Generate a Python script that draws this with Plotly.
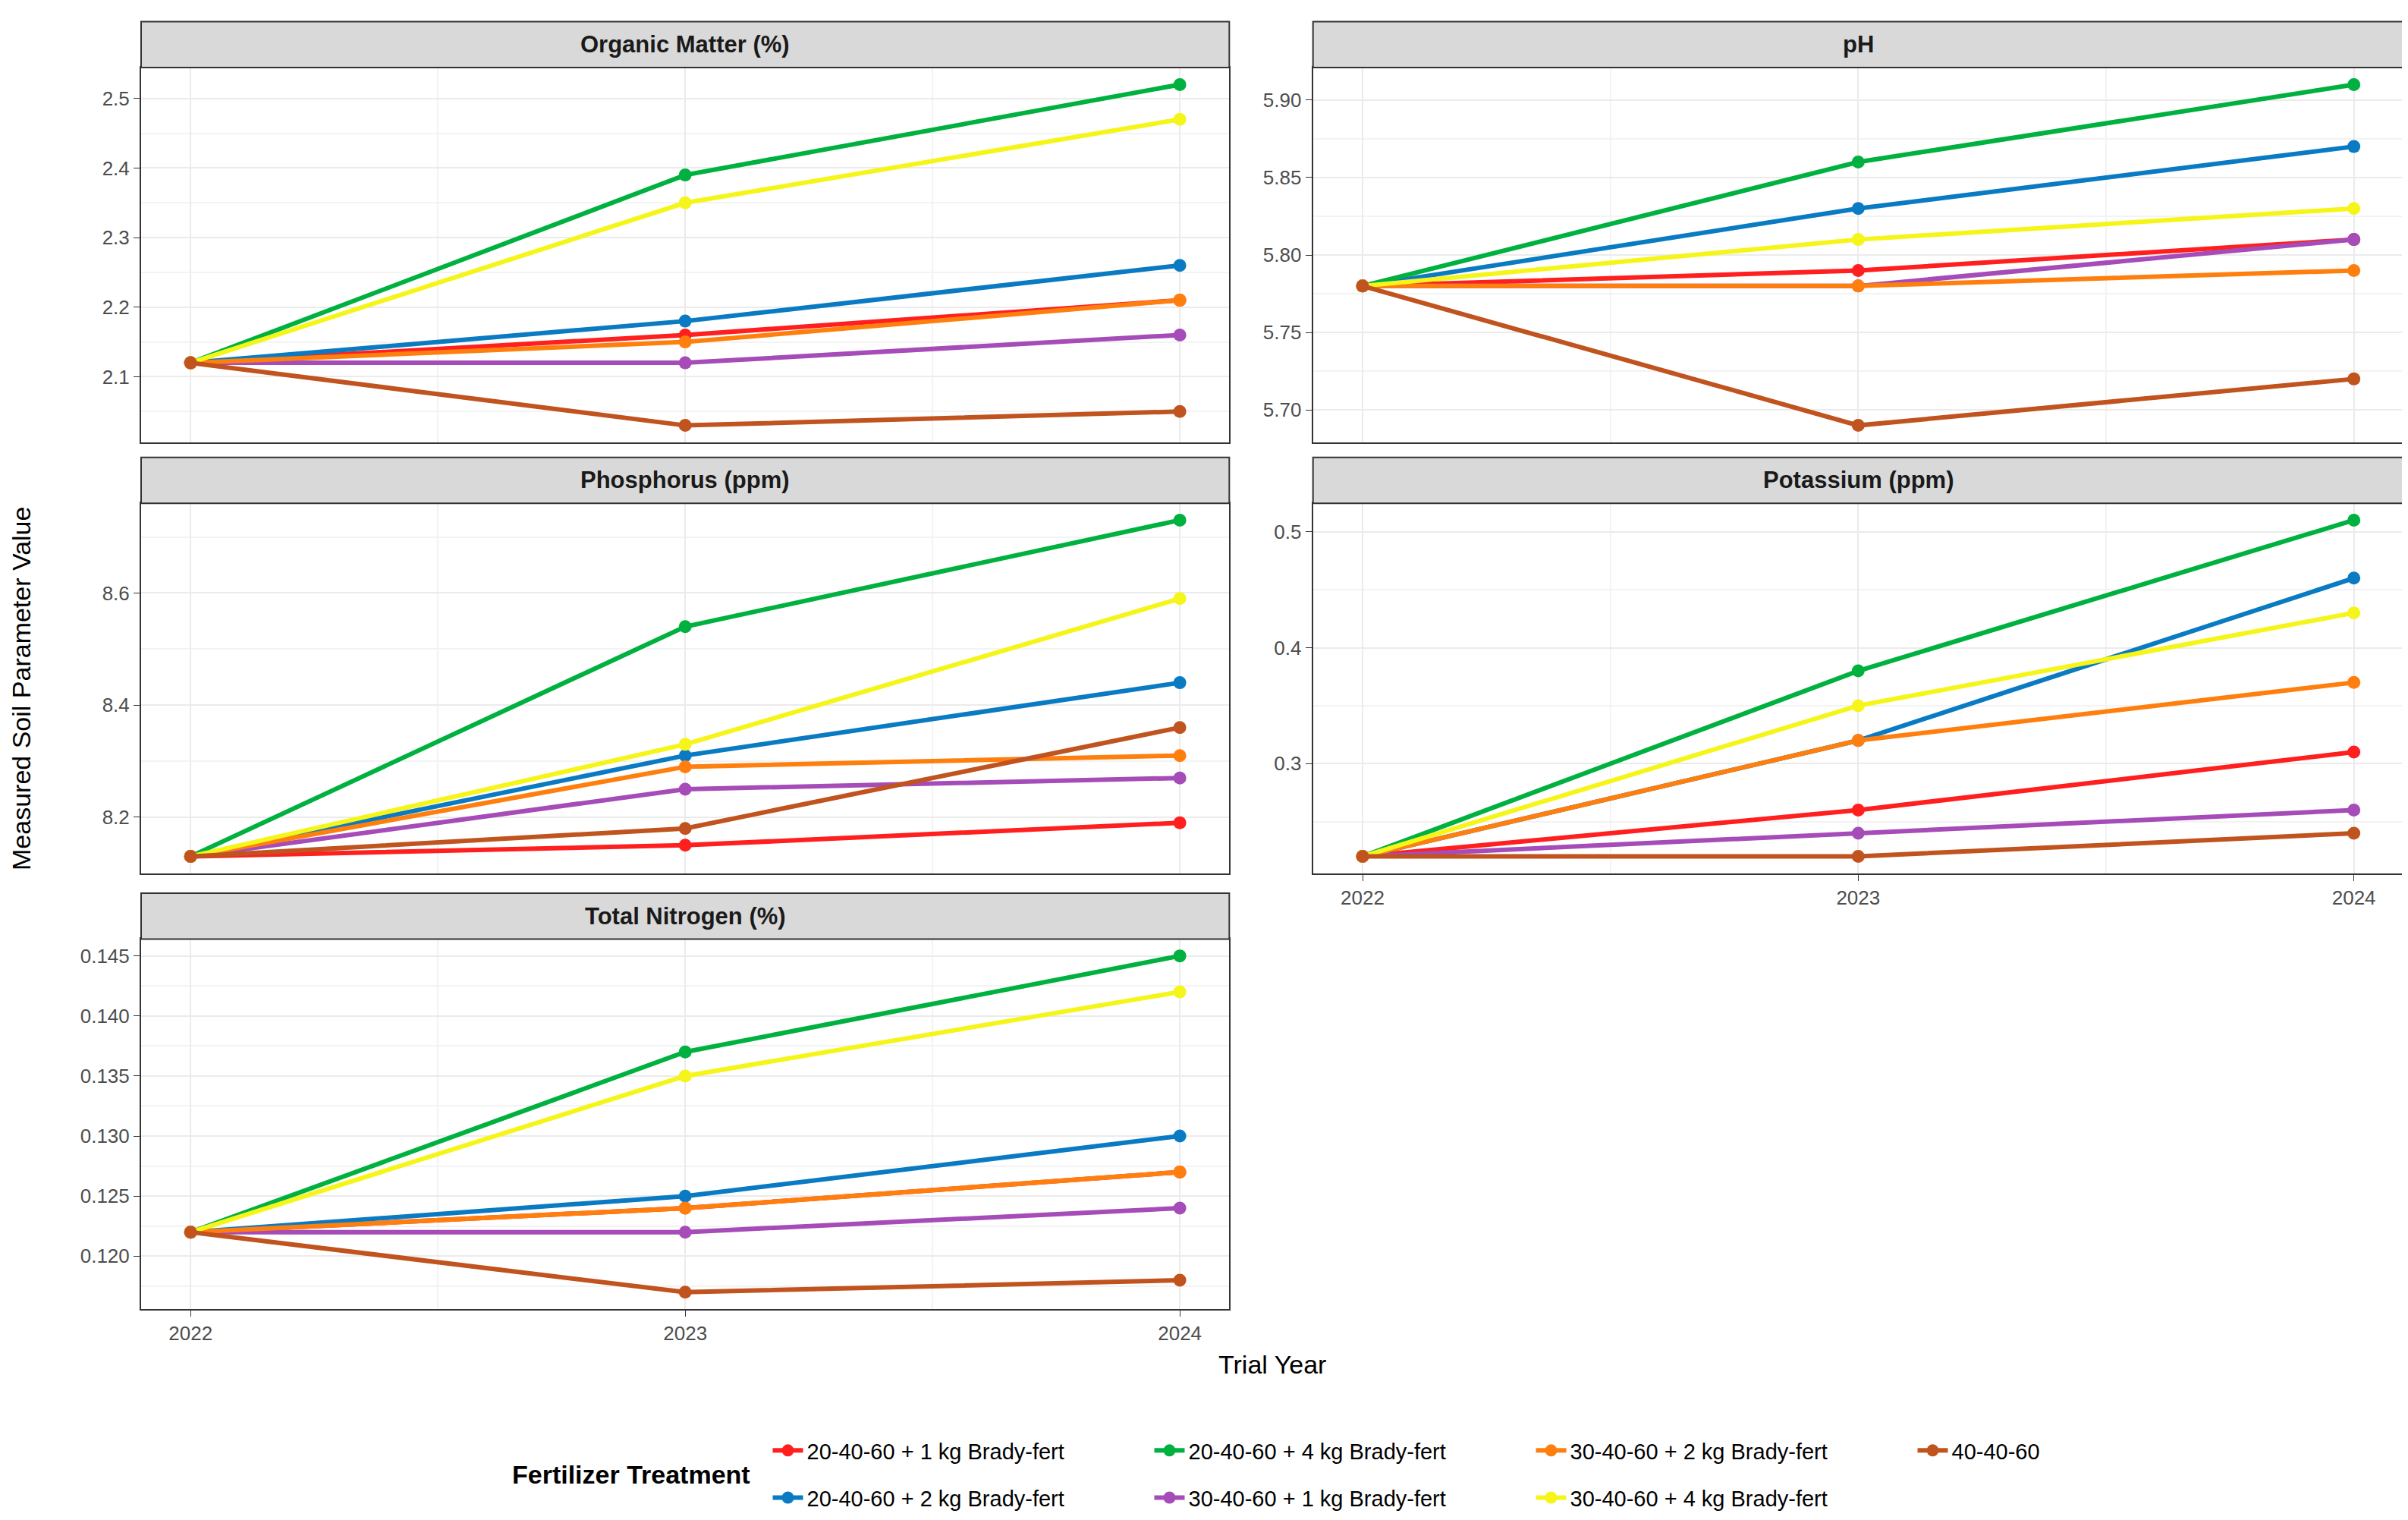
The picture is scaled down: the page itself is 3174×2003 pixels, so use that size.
import plotly.graph_objects as go

years = [2022, 2023, 2024]

treatments = ["20-40-60 + 1 kg Brady-fert", "20-40-60 + 2 kg Brady-fert",
              "20-40-60 + 4 kg Brady-fert", "30-40-60 + 1 kg Brady-fert",
              "30-40-60 + 2 kg Brady-fert", "30-40-60 + 4 kg Brady-fert",
              "40-40-60"]
colors = ["#FF1F1F", "#0A7BC2", "#00B140", "#A64CB8", "#FF7F0E", "#F5F51A", "#C0531E"]

organic = [[2.12, 2.16, 2.21], [2.12, 2.18, 2.26], [2.12, 2.39, 2.52], [2.12, 2.12, 2.16],
           [2.12, 2.15, 2.21], [2.12, 2.35, 2.47], [2.12, 2.03, 2.05]]
ph = [[5.78, 5.79, 5.81], [5.78, 5.83, 5.87], [5.78, 5.86, 5.91], [5.78, 5.78, 5.81],
      [5.78, 5.78, 5.79], [5.78, 5.81, 5.83], [5.78, 5.69, 5.72]]
phosphorus = [[8.13, 8.15, 8.19], [8.13, 8.31, 8.44], [8.13, 8.54, 8.73], [8.13, 8.25, 8.27],
              [8.13, 8.29, 8.31], [8.13, 8.33, 8.59], [8.13, 8.18, 8.36]]
potassium = [[0.22, 0.26, 0.31], [0.22, 0.32, 0.46], [0.22, 0.38, 0.51], [0.22, 0.24, 0.26],
             [0.22, 0.32, 0.37], [0.22, 0.35, 0.43], [0.22, 0.22, 0.24]]
nitrogen = [[0.122, 0.124, 0.127], [0.122, 0.125, 0.130], [0.122, 0.137, 0.145], [0.122, 0.122, 0.124],
            [0.122, 0.124, 0.127], [0.122, 0.135, 0.142], [0.122, 0.117, 0.118]]

panels = [("Organic Matter (%)", organic, 0.1, ".1f"),
          ("pH", ph, 0.05, ".2f"),
          ("Phosphorus (ppm)", phosphorus, 0.2, ".1f"),
          ("Potassium (ppm)", potassium, 0.1, ".1f"),
          ("Total Nitrogen (%)", nitrogen, 0.005, ".3f")]

xdoms = [[0, 0.481], [0.518, 1]]
ydoms = [[0.698, 1], [0.351, 0.649], [0, 0.298]]
row1_legend = [0, 2, 4, 6]

fig = go.Figure()
layout = {}
shapes = []
annotations = []
for p, (title, vals, dt, fmt) in enumerate(panels):
    r, c = p // 2, p % 2
    ax = "" if p == 0 else str(p + 1)
    for i, name in enumerate(treatments):
        fig.add_trace(go.Scatter(
            x=years, y=vals[i], name=name, mode="lines+markers",
            line=dict(color=colors[i], width=6), marker=dict(color=colors[i], size=17),
            xaxis="x" + ax, yaxis="y" + ax, showlegend=(p == 0),
            legend="legend" if i in row1_legend else "legend2"))
    flat = [v for s in vals for v in s]
    lo, hi = min(flat), max(flat)
    pad = 0.05 * (hi - lo)
    bottom = (r == 2) or (p == 3)
    layout["xaxis" + ax] = dict(
        domain=xdoms[c], anchor="y" + ax, range=[2021.9, 2024.1],
        tickvals=years, showticklabels=bottom, ticks="outside" if bottom else "",
        ticklen=8, tickcolor="#333", showline=True, mirror=True, linecolor="#333",
        linewidth=2, gridcolor="#ebebeb", gridwidth=2, zeroline=False,
        tickfont=dict(size=26, color="#4d4d4d"),
        minor=dict(tickvals=[2022.5, 2023.5], showgrid=True, gridcolor="#f3f3f3"))
    layout["yaxis" + ax] = dict(
        domain=ydoms[r], anchor="x" + ax, range=[lo - pad, hi + pad],
        dtick=dt, tickformat=fmt, ticks="outside", ticklen=8, tickcolor="#333",
        showline=True, mirror=True, linecolor="#333", linewidth=2,
        gridcolor="#ebebeb", gridwidth=2, zeroline=False,
        tickfont=dict(size=26, color="#4d4d4d"),
        minor=dict(dtick=dt / 2, showgrid=True, gridcolor="#f3f3f3"))
    y1 = ydoms[r][1]
    shapes.append(dict(type="rect", xref="paper", yref="paper", x0=xdoms[c][0], x1=xdoms[c][1],
                       y0=y1, y1=y1 + 0.037, fillcolor="#d9d9d9", line=dict(color="#333", width=2)))
    annotations.append(dict(text="<b>" + title + "</b>", xref="paper", yref="paper",
                            x=sum(xdoms[c]) / 2, y=y1 + 0.0185, showarrow=False,
                            xanchor="center", yanchor="middle",
                            font=dict(size=31, color="#1a1a1a")))

annotations.append(dict(text="Measured Soil Parameter Value", xref="paper", yref="paper",
                        x=-0.053, y=0.5, textangle=-90, showarrow=False,
                        xanchor="center", yanchor="middle", font=dict(size=34, color="#000")))
annotations.append(dict(text="Trial Year", xref="paper", yref="paper", x=0.5, y=-0.0445,
                        xanchor="center", yanchor="middle",
                        showarrow=False, font=dict(size=34, color="#000")))
annotations.append(dict(text="<b>Fertilizer Treatment</b>", xref="paper", yref="paper",
                        x=0.27, xanchor="right", y=-0.133, yanchor="middle", showarrow=False,
                        font=dict(size=34, color="#000")))

leg = dict(orientation="h", xanchor="left", yanchor="middle", x=0.2775,
           entrywidth=448, entrywidthmode="pixels", font=dict(size=29, color="#000"),
           bgcolor="rgba(0,0,0,0)", itemwidth=40)
fig.update_layout(
    width=3174, height=2003, autosize=False, plot_bgcolor="white", paper_bgcolor="white",
    margin=dict(l=178, r=12, t=81, b=279),
    font=dict(family="Liberation Sans, Arial, sans-serif"),
    shapes=shapes, annotations=annotations,
    legend=dict(leg, y=-0.114), legend2=dict(leg, y=-0.152),
    **layout)

fig.write_html("out.html")
